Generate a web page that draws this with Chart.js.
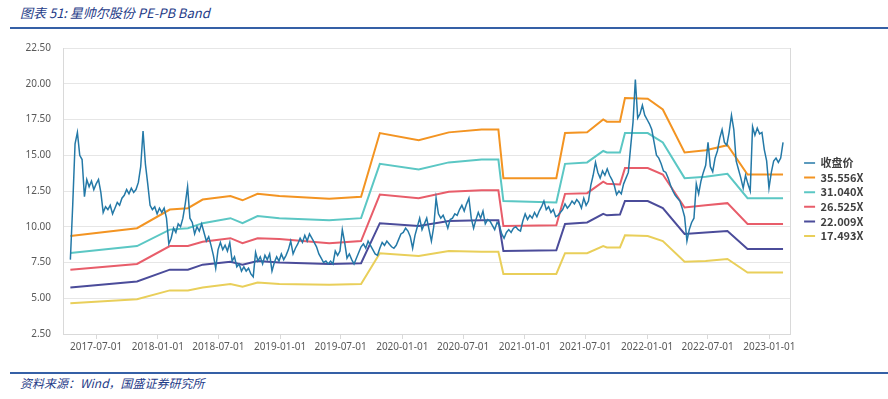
<!DOCTYPE html>
<html>
<head>
<meta charset="utf-8">
<script src="https://cdn.jsdelivr.net/npm/chart.js@4/dist/chart.umd.min.js"></script>
<style>
    body { margin: 0; width: 888px; height: 399px; background: #fff; overflow: hidden; position: relative; }
    .title, .source { position: absolute; left: 20px; font-family: "Noto Sans CJK SC", sans-serif; font-style: italic; color: #1f3c88; white-space: nowrap; }
    .title { top: 5px; font-size: 13px; line-height: 16px; }
    .source { top: 375px; font-size: 12px; line-height: 16px; }
    .rule { position: absolute; left: 10px; width: 878px; height: 2px; background: #3560a6; }
    #bandChart { position: absolute; left: 0; top: 30px; }
</style>
</head>
<body>
<div class="title">图表 51: 星帅尔股份 PE-PB Band</div>
<div class="rule" style="top:27px"></div>
<canvas id="bandChart" width="888" height="324"></canvas>
<div class="rule" style="top:372px"></div>
<div class="source">资料来源：Wind，国盛证券研究所</div>

<script>
// 수치 데이터
const tickLabels = ['2017-07-01', '2018-01-01', '2018-07-01', '2019-01-01', '2019-07-01', '2020-01-01',
    '2020-07-01', '2021-01-01', '2021-07-01', '2022-01-01', '2022-07-01', '2023-01-01'];
const xMinDate = '2017-03-24';
const xMaxDate = '2023-03-04';

// 收盘价: 주간 샘플
const priceStart = '2017-04-15';
const priceStepDays = 7;
const priceValues = [
    7.7, 11.5, 15.8, 16.6, 15.0, 14.7, 12.1, 13.3, 12.8, 13.2,
    12.6, 13.0, 13.3, 12.4, 11.0, 11.4, 11.2, 11.5, 10.9, 11.3,
    11.7, 11.5, 12.0, 12.2, 12.6, 12.3, 12.7, 12.4, 12.6, 13.1,
    14.2, 16.7, 14.4, 13.0, 11.5, 11.2, 11.4, 10.9, 11.3, 11.0,
    11.3, 10.6, 8.8, 9.2, 9.9, 9.6, 10.2, 10.0, 10.6, 11.6,
    12.8, 10.6, 10.3, 9.5, 10.0, 9.7, 10.2, 9.6, 9.0, 9.3,
    8.7, 8.0, 7.1, 8.4, 8.9, 8.4, 8.7, 8.3, 8.9, 7.6,
    7.9, 7.2, 7.4, 6.9, 7.2, 6.9, 7.1, 6.7, 6.5, 8.2,
    7.6, 7.9, 7.4, 8.0, 7.7, 8.1, 6.9, 7.5, 7.9, 7.6,
    8.1, 7.7, 8.0, 8.4, 9.0, 8.1, 8.5, 8.8, 9.2, 8.9,
    9.4, 9.0, 9.5, 9.2, 8.9, 8.6, 8.1, 7.8, 7.5, 7.6,
    7.4, 7.6, 7.4, 8.3, 8.0, 8.3, 9.8, 8.9, 7.8, 8.1,
    7.7, 7.4, 7.8, 8.2, 8.6, 8.8, 8.5, 9.0, 8.7, 8.4,
    8.1, 8.0, 8.5, 8.9, 8.7, 9.0, 8.8, 8.6, 8.5, 8.7,
    9.1, 9.5, 9.6, 9.9, 9.7, 9.3, 8.5, 9.4, 10.0, 10.6,
    9.8, 10.2, 10.6, 9.8, 9.0, 10.0, 12.0, 10.9, 10.6, 10.8,
    10.4, 9.9, 10.5, 10.6, 10.9, 10.8, 11.2, 11.5, 11.1, 11.6,
    12.0, 10.6, 9.9, 10.5, 11.0, 10.6, 11.1, 10.2, 10.5, 10.4,
    10.1, 9.8, 10.3, 10.1, 9.5, 9.2, 9.6, 9.8, 9.6, 9.9,
    10.0, 9.8, 9.7, 10.4, 10.9, 10.5, 10.8, 10.6, 11.0, 10.7,
    11.1, 11.4, 11.8, 11.2, 11.4, 11.0, 11.2, 10.7, 10.8, 11.0,
    11.2, 11.6, 11.3, 11.5, 11.8, 11.6, 11.9, 11.7, 11.3, 12.0,
    11.5, 11.8, 12.9, 13.6, 14.5, 13.8, 13.4, 13.9, 13.6, 14.05,
    13.6, 13.3, 12.9, 12.25, 12.5, 12.3, 13.0, 13.4, 13.8, 15.6,
    17.3, 20.3, 17.6, 17.9, 18.5, 17.8, 17.5, 17.2, 16.8, 15.9,
    15.0, 14.8, 14.4, 13.9, 13.8, 13.4, 12.9, 12.5, 12.2, 12.0,
    11.8, 11.3, 10.7, 9.0, 9.8, 10.3, 10.6, 13.0, 12.3, 13.2,
    13.8, 14.3, 15.9, 14.2, 13.85, 14.8, 15.3, 16.2, 16.8, 15.9,
    15.7, 16.6, 17.8, 16.8, 14.6, 14.0, 13.4, 12.7, 13.6, 13.0,
    12.5, 17.0, 16.4, 16.9, 16.5, 16.6, 15.4, 14.6, 12.7, 13.8,
    14.6, 14.8, 14.5, 14.8, 15.9
];

// PE Band 꺾이는 날짜
const bandDates = ['2017-04-15', '2017-10-31', '2018-02-06', '2018-04-01', '2018-05-15', '2018-08-06',
    '2018-09-11', '2018-10-26', '2018-12-30', '2019-05-28', '2019-08-31', '2019-10-26', '2020-02-19',
    '2020-05-19', '2020-08-25', '2020-10-14', '2020-10-29', '2021-04-05', '2021-05-01', '2021-07-06',
    '2021-08-23', '2021-09-03', '2021-10-12', '2021-10-27', '2022-01-03', '2022-02-17', '2022-04-23',
    '2022-06-25', '2022-08-29', '2022-10-28', '2023-02-11'];

const band35556 = [9.35, 9.9, 11.2, 11.3, 11.9, 12.15, 11.85, 12.3, 12.15, 11.95, 12.1, 16.55, 16.05,
    16.6, 16.8, 16.8, 13.4, 13.4, 16.55, 16.6, 17.5, 17.35, 17.35, 19.0, 18.95, 18.2, 15.2, 15.35, 15.7, 13.65, 13.65];
const band31040 = [8.17, 8.65, 9.8, 9.9, 10.25, 10.6, 10.25, 10.75, 10.6, 10.45, 10.6, 14.4, 14.0,
    14.5, 14.7, 14.7, 11.8, 11.7, 14.4, 14.5, 15.3, 15.2, 15.2, 16.55, 16.55, 15.9, 13.4, 13.5, 13.7, 12.0, 12.0];
const band26525 = [7.0, 7.4, 8.65, 8.65, 8.95, 9.2, 8.85, 9.2, 9.15, 8.85, 9.0, 12.25, 12.0,
    12.45, 12.55, 12.55, 10.05, 10.1, 12.3, 12.35, 13.15, 13.0, 12.95, 14.1, 14.1, 13.65, 11.35, 11.5, 11.65, 10.2, 10.2];
const band22009 = [5.75, 6.17, 7.0, 7.0, 7.35, 7.55, 7.35, 7.6, 7.5, 7.4, 7.45, 10.25, 10.05,
    10.4, 10.45, 10.45, 8.3, 8.35, 10.2, 10.3, 10.9, 10.8, 10.85, 11.8, 11.8, 11.3, 9.5, 9.6, 9.7, 8.45, 8.45];
const band17493 = [4.65, 4.93, 5.55, 5.55, 5.75, 6.0, 5.8, 6.1, 6.0, 5.95, 6.0, 8.15, 7.95,
    8.3, 8.25, 8.25, 6.7, 6.7, 8.15, 8.15, 8.65, 8.55, 8.55, 9.4, 9.35, 9.0, 7.55, 7.6, 7.75, 6.8, 6.8];

const toDay = s => Date.parse(s) / 864e5;

const pricePoints = priceValues.map((v, i) => ({ x: toDay(priceStart) + i * priceStepDays, y: v }));
const bandPoints = arr => bandDates.map((d, i) => ({ x: toDay(d), y: arr[i] }));

function lineSet(label, data, color, width) {
    return { label, data, borderColor: color, backgroundColor: color, borderWidth: width, pointRadius: 0, tension: 0, fill: false };
}

const axisGrey = '#d9d9d9';
const tickFont = { family: '"Noto Sans", sans-serif', size: 10 };

new Chart(document.getElementById('bandChart').getContext('2d'), {
    type: 'line',
    data: {
        datasets: [
            lineSet('收盘价', pricePoints, '#2479a7', 1.5),
            lineSet('35.556X', bandPoints(band35556), '#f39422', 2),
            lineSet('31.040X', bandPoints(band31040), '#5bc7c4', 2),
            lineSet('26.525X', bandPoints(band26525), '#e85d6a', 2),
            lineSet('22.009X', bandPoints(band22009), '#4b4c9a', 2),
            lineSet('17.493X', bandPoints(band17493), '#e9cf5a', 2)
        ]
    },
    options: {
        responsive: false,
        animation: false,
        layout: { padding: { top: 15, right: 14.5, bottom: 0, left: 0 } },
        scales: {
            x: {
                type: 'linear',
                min: toDay(xMinDate),
                max: toDay(xMaxDate),
                afterBuildTicks: s => { s.ticks = tickLabels.map(d => ({ value: toDay(d) })); },
                afterFit: s => { s.height = 20; },
                grid: { drawOnChartArea: false, drawTicks: true, tickLength: 5, color: axisGrey },
                border: { color: axisGrey },
                ticks: { callback: (v, i) => tickLabels[i], autoSkip: false, maxRotation: 0, padding: 2, color: '#595959', font: tickFont }
            },
            y: {
                min: 2.5,
                max: 22.5,
                afterFit: s => { s.width = 63; },
                grid: { color: '#e6e6e6', drawTicks: false },
                border: { color: axisGrey },
                ticks: { stepSize: 2.5, padding: 12, color: '#595959', font: tickFont, callback: v => v.toFixed(2) }
            },
            // 오른쪽 테두리와 범례 사이 간격용
            y2: {
                position: 'right',
                display: true,
                afterFit: s => { s.width = 10.4; },
                grid: { display: false },
                border: { color: axisGrey },
                ticks: { display: false }
            }
        },
        plugins: {
            legend: {
                position: 'right',
                labels: {
                    usePointStyle: true,
                    pointStyle: 'line',
                    pointStyleWidth: 11,
                    padding: 3.6,
                    color: '#404040',
                    font: { family: '"Noto Sans CJK SC", sans-serif', size: 11, weight: 'bold' }
                }
            },
            tooltip: { enabled: false }
        }
    }
});
</script>
</body>
</html>
